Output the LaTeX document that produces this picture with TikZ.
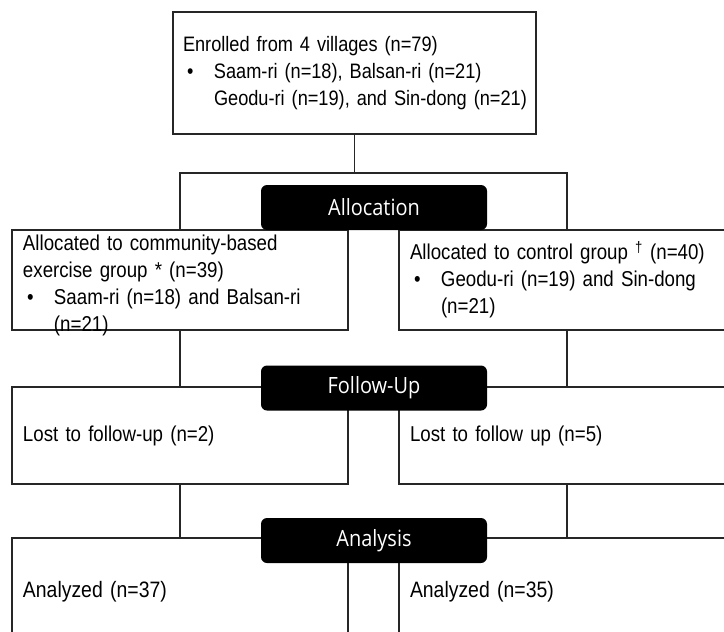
\documentclass[tikz,border=0pt]{standalone}
\usepackage{fontspec}
\setmainfont{Liberation Sans}[FakeStretch=0.87, WordSpace=0.9]
\newfontfamily\stagefont{Open Sans}[FakeStretch=0.89]
\newcommand{\bul}{\makebox[31pt][l]{\hspace{4pt}\textbullet}}
\newcommand{\cont}{\hspace*{31pt}}

\begin{document}
\begin{tikzpicture}[
  x=1pt, y=-1pt,
  every node/.style={inner sep=0pt},
  box/.style={draw=black!85, line width=1.1pt, minimum width=336pt,
    text width=314pt, align=left, font=\fontsize{21.5}{27}\selectfont},
  stage/.style={fill=black, rounded corners=6pt, minimum width=226pt,
    minimum height=45pt, text=white, font=\stagefont\fontsize{22.4}{26}\selectfont},
  link/.style={draw=black!85, line width=1.1pt}
]
  \useasboundingbox (0,0) rectangle (724,632);
  \clip (0,0) rectangle (724,632);

  % enrolment
  \node[box, minimum width=363pt, text width=343pt, minimum height=122pt,
    font=\fontsize{20.9}{27}\selectfont] (enrol) at (354.5,73)
    {Enrolled from 4 villages (n=79)\\
     \bul\mbox{Saam-ri (n=18), Balsan-ri (n=21)}\\
     \cont\mbox{Geodu-ri (n=19), and Sin-dong (n=21)}};

  % allocation
  \node[box, minimum height=100pt, text depth=74pt] (exAlloc) at (180,280)
    {Allocated to community-based\\
     exercise group * (n=39)\\
     \bul Saam-ri (n=18) and Balsan-ri\\
     \cont (n=21)};
  \node[box, minimum height=100pt] (ctAlloc) at (567,280)
    {\mbox{Allocated to control group \textsuperscript{†} (n=40)}\\
     \bul Geodu-ri (n=19) and Sin-dong\\
     \cont (n=21)};

  % follow-up
  \node[box, minimum height=97pt] (exLost) at (180,435.5)
    {Lost to follow-up (n=2)};
  \node[box, minimum height=97pt] (ctLost) at (567,435.5)
    {Lost to follow up (n=5)};

  % analysis
  \node[box, minimum height=108pt, font=\fontsize{22.3}{27}\selectfont]
    (exAna) at (180,592) {Analyzed (n=37)};
  \node[box, minimum height=108pt, font=\fontsize{22.3}{27}\selectfont]
    (ctAna) at (567,592) {Analyzed (n=35)};

  % connectors
  \coordinate (split) at (354.5,173);
  \draw[link] (enrol.south) -- (split);
  \draw[link] (exAlloc.north) |- (split) -| (ctAlloc.north);
  \draw[link] (exAlloc.south) -- (exLost.north);
  \draw[link] (ctAlloc.south) -- (ctLost.north);
  \draw[link] (exLost.south) -- (exAna.north);
  \draw[link] (ctLost.south) -- (ctAna.north);

  % stage labels
  \node[stage] (allocLab) at (374,207.5) {Allocation};
  \node[stage] (followLab) at (374,388) {Follow-Up};
  \node[stage] (anaLab) at (374,540.5) {Analysis};
\end{tikzpicture}
\end{document}
